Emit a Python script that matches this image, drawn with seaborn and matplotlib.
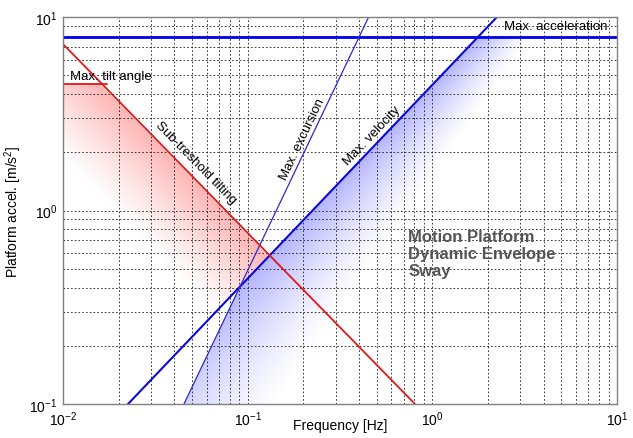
import numpy as np
import matplotlib.pyplot as plt
import seaborn as sns

# envelope limits (freq in Hz, accel in m/s^2)
freq_maxacc = [0.01, 10.0]
acc_maxacc = [7.9, 7.9]

freq_maxtilt = [0.01, 0.0173]
acc_maxtilt = [4.5, 4.5]

freq_tilt = [0.01, 0.805]
acc_tilt = [7.25, 0.1]

freq_vel = [0.0225, 2.24]
acc_vel = [0.1, 10.0]

freq_exc = [0.0452, 0.452]
acc_exc = [0.1, 10.0]

XLIM = (0.01, 10.0)
YLIM = (0.1, 10.0)

sns.set_style("white")
plt.rcParams["font.family"] = ["Liberation Sans", "DejaVu Sans"]
plt.rcParams["mathtext.fontset"] = "custom"
plt.rcParams["mathtext.rm"] = "Liberation Sans"
plt.rcParams["mathtext.it"] = "Liberation Sans:italic"
plt.rcParams["text.color"] = "black"
plt.rcParams["axes.labelcolor"] = "black"

W, H = 633, 439
fig = plt.figure(figsize=(W / 100, H / 100), dpi=100)
fig.patch.set_facecolor("white")
ax_l, ax_b, ax_w, ax_h = 63, 34, 554, 387
rect = [ax_l / W, ax_b / H, ax_w / W, ax_h / H]


def logline(q, xs, ys):
    return np.interp(q, np.log10(xs), np.log10(ys))


# ---- gradient shading (drawn in a plain axes underneath) ----
nx, ny = 700, 480
u = (np.arange(nx) + 0.5) / nx
v = (np.arange(ny) + 0.5) / ny
U, V = np.meshgrid(u, v)
lx0, lx1 = np.log10(XLIM)
ly0, ly1 = np.log10(YLIM)
LF = lx0 + (lx1 - lx0) * U
LA = ly0 + (ly1 - ly0) * V
PX = U * ax_w
PY = (1 - V) * ax_h


def to_px(lf):
    return (lf - lx0) / (lx1 - lx0) * ax_w


def to_py(la):
    return (1 - (la - ly0) / (ly1 - ly0)) * ax_h


lv = logline(LF, freq_vel, acc_vel)
le = logline(LF, freq_exc, acc_exc)
lt = logline(LF, freq_tilt, acc_tilt)

# blue: under max velocity / excursion / max acceleration
mask_b = (LA < lv) & (LA < le) & (LA < np.log10(acc_maxacc[0]))
xv = to_px(np.interp(LA, np.log10(acc_vel), np.log10(freq_vel)))
wb = np.clip(54 + 93 * (PY - 27) / 360, 40, None)
tb = (PX - xv) / wb
ab = 0.42 * np.clip(1 - tb, 0, 1) ** 1.2 * mask_b

# red: under the tilt limits, above the velocity line
mask_r = (LA < lt) & (LA < np.log10(acc_maxtilt[0])) & (LA > lv)
dy = PY - to_py(lt)
tr = (dy - 2) / 115
ar = 0.45 * np.clip(1 - tr, 0, 1) ** 1.2 * mask_r * (dy > 2)

blue = np.array([0.3, 0.3, 1.0])
red = np.array([1.0, 0.35, 0.35])
alpha = ab + ar
rgb = (ab[..., None] * blue + ar[..., None] * red) / (alpha[..., None] + 1e-9)
img = np.dstack([rgb, np.clip(alpha, 0, 1)])

ax_bg = fig.add_axes(rect, zorder=0)
ax_bg.imshow(img, extent=(0, 1, 0, 1), origin="lower", aspect="auto",
             interpolation="bilinear")
ax_bg.set_xlim(0, 1)
ax_bg.set_ylim(0, 1)
ax_bg.axis("off")

# ---- main log-log axes ----
ax = fig.add_axes(rect, zorder=1)
ax.patch.set_alpha(0)
ax.set_xscale("log")
ax.set_yscale("log")
ax.set_xlim(*XLIM)
ax.set_ylim(*YLIM)

sns.lineplot(x=freq_maxacc, y=acc_maxacc, ax=ax, color="#0000f0", lw=2.0,
             estimator=None, sort=False)
sns.lineplot(x=freq_vel, y=acc_vel, ax=ax, color="#0a0ad8", lw=1.5,
             estimator=None, sort=False)
sns.lineplot(x=freq_exc, y=acc_exc, ax=ax, color="#2a2ad0", lw=0.9,
             estimator=None, sort=False)
sns.lineplot(x=freq_tilt, y=acc_tilt, ax=ax, color="#e01818", lw=1.3,
             estimator=None, sort=False)
sns.lineplot(x=freq_maxtilt, y=acc_maxtilt, ax=ax, color="#e01818", lw=1.3,
             estimator=None, sort=False)

ax.set_xlim(*XLIM)
ax.set_ylim(*YLIM)
ax.grid(True, which="both", color="#1a1a1a", linestyle=(0, (2, 2.5)),
        linewidth=0.6)
ax.tick_params(which="both", direction="in", length=0, labelsize=10,
               colors="black", pad=4)
for s in ax.spines.values():
    s.set_color("#808080")
    s.set_linewidth(1.0)


def angle_of(xs, ys):
    p = ax.transData.transform(np.column_stack([xs, ys]))
    return np.degrees(np.arctan2(p[1, 1] - p[0, 1], p[1, 0] - p[0, 0]))


fs = 9.5
ax.text(8.9, 8.35, "Max. acceleration", ha="right", va="bottom", fontsize=fs)
ax.text(0.0109, 4.62, "Max. tilt angle", ha="left", va="bottom", fontsize=fs)
ax.text(0.0525, 1.78, "Sub-treshold tilting", ha="center", va="center",
        fontsize=fs, rotation=angle_of(freq_tilt, acc_tilt),
        rotation_mode="anchor")
ax.text(0.197, 2.34, "Max. excursion", ha="center", va="center",
        fontsize=fs, rotation=angle_of(freq_exc, acc_exc),
        rotation_mode="anchor")
ax.text(0.471, 2.45, "Max. velocity", ha="center", va="center",
        fontsize=fs, rotation=angle_of(freq_vel, acc_vel),
        rotation_mode="anchor")
ax.text(0.74, 0.80, "Motion Platform\nDynamic Envelope\nSway", ha="left",
        va="top", fontsize=12, fontweight="bold", color="#555555",
        linespacing=1.15)

ax.set_xlabel("Frequency [Hz]", fontsize=10)
ax.set_ylabel("Platform accel. [m/s$^2$]", fontsize=10)
ax.xaxis.set_label_coords(0.5, -0.035)
ax.yaxis.set_label_coords(-0.07, 0.5)

fig.savefig("out.png", dpi=100)
